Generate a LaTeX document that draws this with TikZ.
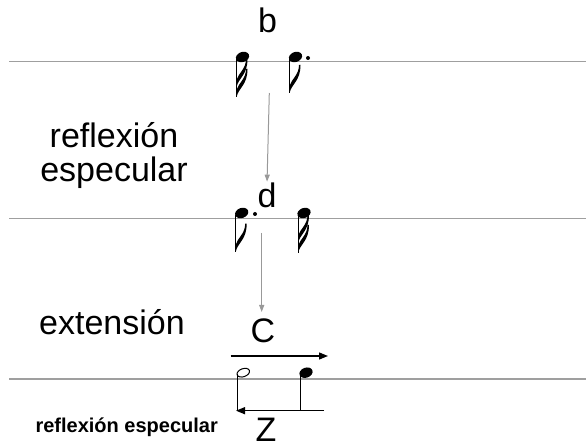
\documentclass[tikz,border=0pt]{standalone}
\usepackage{fontspec}
\setmainfont{Liberation Sans}
\usetikzlibrary{arrows.meta}
% flag of a stem-down note, attached at the stem end
\newcommand{\flagat}[2]{%
  \fill (#1,#2) .. controls (#1+2,#2-9) and (#1+11,#2-12) .. (#1+11,#2-28)
    -- (#1+9.5,#2-28) .. controls (#1+9.5,#2-18) and (#1+2,#2-14) .. (#1,#2-7) -- cycle;}

\begin{document}
\begin{tikzpicture}[x=1pt,y=-1pt,
    staffline/.style={draw=gray!75,line width=1.2pt},
    grayarrow/.style={draw=gray!80,line width=1pt,-{Triangle[length=7pt,width=5pt]}},
    blackarrow/.style={line width=1.3pt,-{Triangle[length=9pt,width=7pt]}},
    biglabel/.style={font=\fontsize{34}{34}\selectfont,inner sep=0pt},
    stem/.style={line width=1pt}]
  \useasboundingbox (0,0) rectangle (586,443);
  % Staff lines
  \draw[staffline] (9,61.5) -- (586,61.5);
  \draw[staffline] (9,218.5) -- (586,218.5);
  \draw[staffline] (9,379) -- (586,379);
  % Labels
  \node[biglabel,align=center] (reflexion) at (114,156) {reflexión\\especular};
  \node[biglabel,anchor=base] (extension) at (112,335) {extensión};
  \node[font=\bfseries\fontsize{20}{20}\selectfont,anchor=base,inner sep=0pt]
    (reflexion2) at (126.7,432.7) {reflexión especular};
  \node[biglabel,anchor=base] (b) at (267.5,33) {b};
  \node[biglabel,anchor=base] (d) at (267,208) {d};
  \node[biglabel,anchor=base] (C) at (263,343) {C};
  \node[biglabel,anchor=base] (Z) at (266,441) {Z};
  % Top notes: sixteenth, dotted eighth
  \fill[shift={(242.5,57)},rotate=20] (0,0) ellipse (6.8pt and 5pt);
  \draw[stem] (236.5,59) -- (236.5,97);
  \flagat{236.5}{97}
  \flagat{236.5}{87}
  \fill[shift={(295.5,57)},rotate=20] (0,0) ellipse (6.8pt and 5pt);
  \draw[stem] (289.5,59) -- (289.5,93);
  \flagat{289.5}{93}
  \fill (308,58) circle (2pt);
  % Middle notes: dotted eighth, sixteenth
  \fill[shift={(241.7,213)},rotate=20] (0,0) ellipse (6.8pt and 5pt);
  \draw[stem] (235.7,215) -- (235.7,251.7);
  \flagat{235.7}{251.7}
  \fill (255,214) circle (2pt);
  \fill[shift={(304,213)},rotate=20] (0,0) ellipse (6.8pt and 5pt);
  \draw[stem] (298,215) -- (298,253);
  \flagat{298}{253}
  \flagat{298}{243}
  % Bottom notes: half, quarter
  \draw[line width=1pt,shift={(243.3,372.7)},rotate=20] (0,0) ellipse (6.5pt and 4pt);
  \draw[stem] (237,374) -- (237,410.7);
  \fill[shift={(306,372.7)},rotate=20] (0,0) ellipse (6.8pt and 5pt);
  \draw[stem] (300,374) -- (300,410.7);
  % Arrows
  \coordinate (btail) at (269.3,93);
  \coordinate (dtail) at (261.7,233);
  \coordinate (dhead) at (261.7,312);
  \coordinate (cleft) at (230.7,356);
  \coordinate (cright) at (328,356);
  \coordinate (zright) at (324,410.7);
  \coordinate (zleft) at (236,410.7);
  \draw[grayarrow,shorten >=1.5pt] (btail) -- (d.north);
  \draw[grayarrow] (dtail) -- (dhead);
  \draw[blackarrow] (cleft) -- (cright);
  \draw[blackarrow] (zright) -- (zleft);
\end{tikzpicture}
\end{document}
